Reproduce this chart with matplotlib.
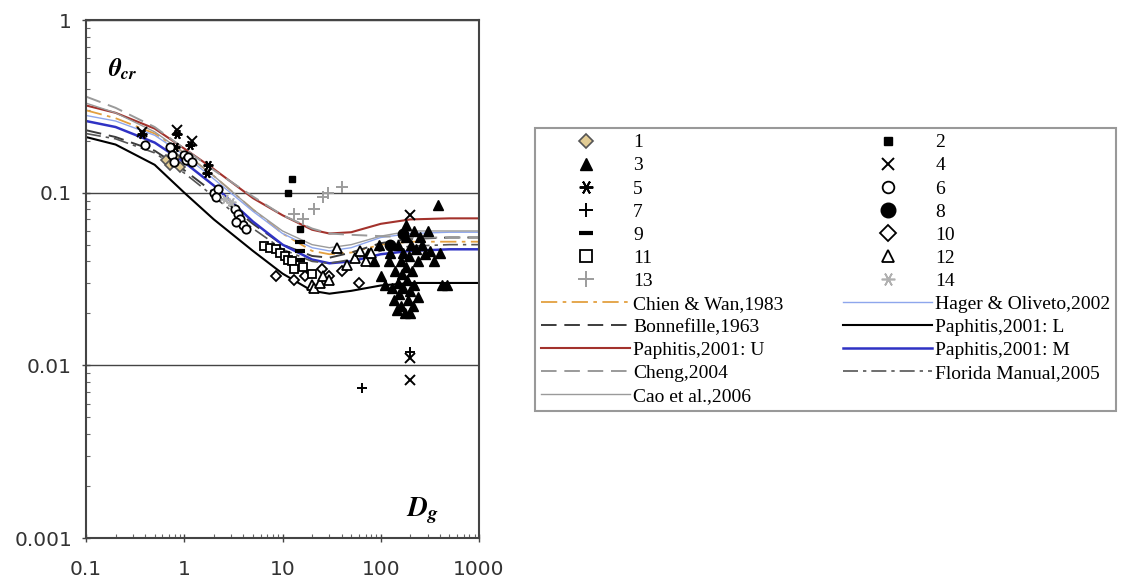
import matplotlib
matplotlib.use("Agg")
import matplotlib.pyplot as plt

dg_curve = [0.1, 0.2, 0.5, 1, 2, 5, 10, 20, 30, 50, 100, 200, 500, 1000]

# threshold curves (theta_cr)
chien_wan = [0.30, 0.27, 0.22, 0.17, 0.125, 0.08, 0.058, 0.046, 0.044, 0.045, 0.050, 0.052, 0.052, 0.052]
hager_oliveto = [0.28, 0.26, 0.215, 0.165, 0.12, 0.078, 0.058, 0.048, 0.046, 0.048, 0.055, 0.058, 0.059, 0.059]
bonnefille = [0.23, 0.21, 0.175, 0.135, 0.10, 0.066, 0.050, 0.043, 0.042, 0.045, 0.051, 0.054, 0.055, 0.055]
paphitis_l = [0.21, 0.19, 0.145, 0.10, 0.070, 0.046, 0.034, 0.027, 0.026, 0.027, 0.029, 0.030, 0.030, 0.030]
paphitis_u = [0.32, 0.29, 0.235, 0.18, 0.137, 0.093, 0.074, 0.061, 0.058, 0.059, 0.066, 0.070, 0.071, 0.071]
paphitis_m = [0.26, 0.24, 0.195, 0.15, 0.11, 0.068, 0.050, 0.041, 0.039, 0.040, 0.044, 0.046, 0.047, 0.047]
cheng = [0.36, 0.31, 0.24, 0.18, 0.135, 0.095, 0.074, 0.062, 0.058, 0.057, 0.056, 0.055, 0.055, 0.055]
florida = [0.22, 0.205, 0.17, 0.13, 0.095, 0.062, 0.047, 0.040, 0.039, 0.041, 0.046, 0.049, 0.050, 0.050]
cao = [0.33, 0.29, 0.225, 0.17, 0.125, 0.08, 0.060, 0.050, 0.048, 0.050, 0.056, 0.060, 0.060, 0.060]

# measured data sets 1..14  (Dg, theta_cr)
d1_x = [0.65, 0.72, 0.8, 0.9]
d1_y = [0.155, 0.145, 0.16, 0.14]
d2_x = [12.5, 11.5, 15]
d2_y = [0.12, 0.10, 0.062]
d3_x = [75, 85, 95, 100, 110, 120, 125, 130, 135, 140, 145, 150, 150, 155, 160, 160, 165, 170, 170, 175,
        180, 180, 185, 190, 195, 200, 200, 205, 210, 215, 220, 220, 230, 240, 250, 260, 280, 300, 320, 350,
        380, 400, 420, 470, 180, 240]
d3_y = [0.045, 0.040, 0.050, 0.033, 0.029, 0.040, 0.045, 0.028, 0.024, 0.035, 0.021, 0.050, 0.030, 0.026,
        0.022, 0.040, 0.034, 0.045, 0.028, 0.020, 0.055, 0.037, 0.031, 0.024, 0.043, 0.027, 0.020, 0.050,
        0.035, 0.022, 0.060, 0.029, 0.047, 0.040, 0.055, 0.050, 0.044, 0.060, 0.046, 0.040, 0.085, 0.045,
        0.029, 0.029, 0.065, 0.025]
d4_x = [0.37, 0.85, 1.2, 200, 200, 200]
d4_y = [0.225, 0.23, 0.20, 0.074, 0.011, 0.0082]
d5_x = [0.37, 0.84, 1.15, 0.8, 1.75, 1.7]
d5_y = [0.22, 0.22, 0.19, 0.185, 0.145, 0.13]
d6_x = [0.4, 0.72, 0.75, 0.78, 1.0, 1.05, 1.1, 1.2, 2.0, 2.2, 2.1, 3.3, 3.5, 3.7, 4.0, 4.3, 3.4]
d6_y = [0.19, 0.185, 0.165, 0.15, 0.165, 0.155, 0.16, 0.15, 0.10, 0.105, 0.095, 0.08, 0.075, 0.07, 0.065,
        0.062, 0.068]
d7_x = [65, 200]
d7_y = [0.0074, 0.012]
d8_x = [170, 125]
d8_y = [0.058, 0.050]
d9_x = [15, 15, 15]
d9_y = [0.052, 0.046, 0.041]
d10_x = [8.5, 13, 17, 25, 30, 40, 60]
d10_y = [0.033, 0.031, 0.033, 0.036, 0.033, 0.035, 0.030]
d11_x = [6.5, 7.5, 8.5, 9.5, 10.5, 11.5, 12.5, 13, 16, 20]
d11_y = [0.049, 0.048, 0.047, 0.045, 0.043, 0.041, 0.040, 0.036, 0.037, 0.034]
d12_x = [20, 21, 24, 26, 30, 36, 45, 55, 62, 70, 80]
d12_y = [0.029, 0.028, 0.030, 0.033, 0.031, 0.048, 0.038, 0.042, 0.046, 0.040, 0.045]
d13_x = [13, 16, 21, 26, 29, 40]
d13_y = [0.075, 0.070, 0.080, 0.095, 0.100, 0.108]
d14_x = [2.6, 3.0]
d14_y = [0.092, 0.088]

x_ticks = [0.1, 1, 10, 100, 1000]
x_tick_labels = ["0.1", "1", "10", "100", "1000"]
y_ticks = [0.001, 0.01, 0.1, 1]
y_tick_labels = ["0.001", "0.01", "0.1", "1"]

plt.rcParams["mathtext.fontset"] = "stix"

fig = plt.figure(figsize=(11.31, 5.77), dpi=100)
ax = fig.add_axes([86 / 1131, 39 / 577, 393 / 1131, 518 / 577])

# curves
curve_handles = {}
curve_handles["Chien & Wan,1983"] = ax.plot(dg_curve, chien_wan, color="#e3a040", lw=1.3,
                                            dashes=(9, 3, 2, 3))[0]
curve_handles["Hager & Oliveto,2002"] = ax.plot(dg_curve, hager_oliveto, color="#8ea6ec", lw=1.0)[0]
curve_handles["Bonnefille,1963"] = ax.plot(dg_curve, bonnefille, color="#3c3c3c", lw=1.4,
                                           dashes=(8, 4))[0]
curve_handles["Paphitis,2001: L"] = ax.plot(dg_curve, paphitis_l, color="black", lw=1.5)[0]
curve_handles["Paphitis,2001: U"] = ax.plot(dg_curve, paphitis_u, color="#a3322c", lw=1.5)[0]
curve_handles["Paphitis,2001: M"] = ax.plot(dg_curve, paphitis_m, color="#2f32c4", lw=1.8)[0]
curve_handles["Cheng,2004"] = ax.plot(dg_curve, cheng, color="#9a9a9a", lw=1.4, dashes=(8, 4))[0]
curve_handles["Florida Manual,2005"] = ax.plot(dg_curve, florida, color="#555555", lw=1.2,
                                               dashes=(9, 3, 2, 3))[0]
curve_handles["Cao et al.,2006"] = ax.plot(dg_curve, cao, color="#9a9a9a", lw=1.0)[0]

# data points
star = (6, 2, 90)
pts = {}
pts["1"] = ax.plot(d1_x, d1_y, "D", ms=5, mfc="#e2cc94", mec="#555555", mew=1.2)[0]
pts["2"] = ax.plot(d2_x, d2_y, "s", ms=4, color="black")[0]
pts["3"] = ax.plot(d3_x, d3_y, "^", ms=6.5, color="black")[0]
pts["4"] = ax.plot(d4_x, d4_y, "x", ms=6.5, color="black", mew=1.4)[0]
pts["5"] = ax.plot(d5_x, d5_y, marker=star, ls="none", ms=7, color="black", mew=1.4)[0]
pts["6"] = ax.plot(d6_x, d6_y, "o", ms=6, mfc="white", mec="black", mew=1.3)[0]
pts["7"] = ax.plot(d7_x, d7_y, "+", ms=7, color="black", mew=1.4)[0]
pts["8"] = ax.plot(d8_x, d8_y, "o", ms=7.5, color="black")[0]
pts["9"] = ax.plot(d9_x, d9_y, "_", ms=7, color="black", mew=3)[0]
pts["10"] = ax.plot(d10_x, d10_y, "D", ms=5.5, mfc="white", mec="black", mew=1.3)[0]
pts["11"] = ax.plot(d11_x, d11_y, "s", ms=6, mfc="white", mec="black", mew=1.3)[0]
pts["12"] = ax.plot(d12_x, d12_y, "^", ms=6.5, mfc="white", mec="black", mew=1.3)[0]
pts["13"] = ax.plot(d13_x, d13_y, "+", ms=8, color="#9c9c9c", mew=1.4)[0]
pts["14"] = ax.plot(d14_x, d14_y, marker=star, ls="none", ms=7, color="#b0b0b0", mew=1.2)[0]

ax.set_xscale("log")
ax.set_yscale("log")
ax.set_xlim(0.1, 1000)
ax.set_ylim(0.001, 1)
ax.set_xticks(x_ticks, x_tick_labels)
ax.set_yticks(y_ticks, y_tick_labels)
ax.tick_params(which="major", direction="inout", length=6, width=1, color="#444444",
               labelsize=14.5, labelcolor="#333333")
ax.tick_params(which="minor", direction="in", length=3, width=0.8, color="#666666")
ax.tick_params(axis="x", pad=13)
ax.tick_params(axis="y", pad=7)
ax.grid(axis="y", which="major", color="#444444", lw=1.0)
for sp in ax.spines.values():
    sp.set_color("#444444")
    sp.set_linewidth(1.5)

ax.text(0.055, 0.905, r"$\mathbfit{\theta}_{\mathbfit{cr}}$", transform=ax.transAxes,
        fontsize=18, va="center", ha="left")
ax.text(0.815, 0.052, r"$\mathbfit{D}_{\mathbfit{g}}$", transform=ax.transAxes,
        fontsize=20, va="center", ha="left")

# legend: odd sets + first five curves in column 1, even sets + the rest in column 2
lab1 = ["1", "3", "5", "7", "9", "11", "13"]
col1_curves = ["Chien & Wan,1983", "Bonnefille,1963", "Paphitis,2001: U", "Cheng,2004", "Cao et al.,2006"]
lab2 = ["2", "4", "6", "8", "10", "12", "14"]
col2_curves = ["Hager & Oliveto,2002", "Paphitis,2001: L", "Paphitis,2001: M", "Florida Manual,2005"]

handles = ([pts[k] for k in lab1] + [curve_handles[c] for c in col1_curves]
           + [pts[k] for k in lab2] + [curve_handles[c] for c in col2_curves])
labels = lab1 + col1_curves + lab2 + col2_curves

leg = fig.legend(handles, labels, ncol=2, loc="upper left", bbox_to_anchor=(535 / 1131, 1 - 128 / 577),
                 borderaxespad=0, prop={"family": "Liberation Serif", "size": 14}, frameon=True,
                 fancybox=False, edgecolor="#808080", handlelength=4.6, handletextpad=0.15,
                 labelspacing=0.28, columnspacing=3.05, borderpad=0.3, numpoints=1, markerscale=1.4)
leg.get_frame().set_linewidth(1.5)

fig.savefig("out.png", dpi=100)
